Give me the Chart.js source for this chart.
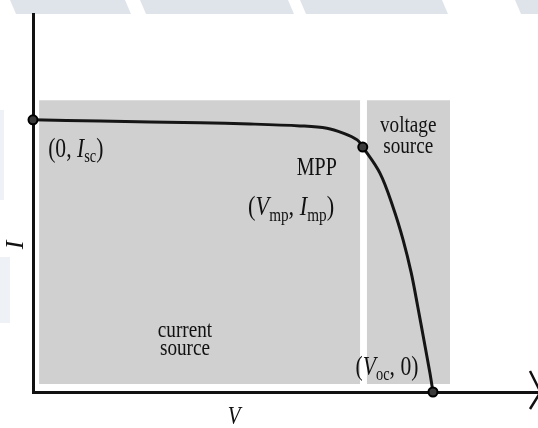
<!DOCTYPE html>
<html>
<head>
<meta charset="utf-8">
<script src="https://cdn.jsdelivr.net/npm/chart.js@4/dist/chart.umd.min.js"></script>
<style>
  html, body { margin: 0; padding: 0; background: #fff; }
  canvas { display: block; }
</style>
</head>
<body>
<canvas id="iv" width="538" height="428"></canvas>
<script>
// I-V curve of a solar cell (normalised units)
var voltage = [0, 0.133, 0.331, 0.430, 0.529, 0.582, 0.614, 0.642, 0.653, 0.687, 0.713, 0.733, 0.749, 0.762, 0.774, 0.786, 0.792];
var current = [0.720, 0.717, 0.712, 0.709, 0.704, 0.698, 0.685, 0.667, 0.648, 0.579, 0.489, 0.402, 0.315, 0.225, 0.138, 0.050, 0];

// marked points: short circuit, maximum power point, open circuit
var keyNames = ['Isc', 'MPP', 'Voc'];
var keyV = [0, 0.653, 0.792];
var keyI = [0.720, 0.648, 0];

// shaded operating regions (current source / voltage source)
var regionNames = ['current source', 'voltage source'];
var regionFrom = [0.012, 0.661];
var regionTo = [0.648, 0.826];
var regionTop = 0.772;
var regionBottom = 0.021;

var SERIF = "'Liberation Serif', 'DejaVu Serif', serif";

function toXY(xs, ys) {
  return xs.map(function(x, i){ return {x: x, y: ys[i]}; });
}

var regionSets = regionNames.map(function(name, i){
  return {
    label: name,
    data: [{x: regionFrom[i], y: regionTop}, {x: regionTo[i], y: regionTop}],
    showLine: true,
    borderWidth: 0,
    pointRadius: 0,
    backgroundColor: '#d0d0d0',
    fill: {value: regionBottom},
    order: 3
  };
});

// text runs: it = italic, sub = subscript
function drawRuns(ctx, runs, x, y, size, align) {
  var sx = 0.8;
  var widths = runs.map(function(r){
    ctx.font = (r.it ? 'italic ' : '') + Math.round(r.sub ? size * 0.68 : size) + 'px ' + SERIF;
    return ctx.measureText(r.t).width * sx;
  });
  var total = widths.reduce(function(a, b){ return a + b; }, 0);
  var cx = align === 'left' ? x : x - total / 2;
  ctx.textAlign = 'left';
  ctx.textBaseline = 'alphabetic';
  runs.forEach(function(r, i){
    ctx.font = (r.it ? 'italic ' : '') + Math.round(r.sub ? size * 0.68 : size) + 'px ' + SERIF;
    ctx.save();
    ctx.translate(cx, y + (r.sub ? size * 0.2 : 0));
    ctx.scale(sx, 1);
    ctx.fillText(r.t, 0, 0);
    ctx.restore();
    cx += widths[i];
  });
}

var labels = [
  {v: 0.030, i: 0.622, size: 27, align: 'left', runs: [{t: '(0, '}, {t: 'I', it: true}, {t: 'sc', sub: true}, {t: ')'}]},
  {v: 0.562, i: 0.574, size: 25, runs: [{t: 'MPP'}]},
  {v: 0.511, i: 0.468, size: 28, runs: [{t: '('}, {t: 'V', it: true}, {t: 'mp', sub: true}, {t: ', '}, {t: 'I', it: true}, {t: 'mp', sub: true}, {t: ')'}]},
  {v: 0.743, i: 0.688, size: 24, runs: [{t: 'voltage'}]},
  {v: 0.743, i: 0.632, size: 24, runs: [{t: 'source'}]},
  {v: 0.301, i: 0.146, size: 24, runs: [{t: 'current'}]},
  {v: 0.301, i: 0.098, size: 24, runs: [{t: 'source'}]},
  {v: 0.701, i: 0.045, size: 27, runs: [{t: '('}, {t: 'V', it: true}, {t: 'oc', sub: true}, {t: ', 0)'}]},
  {v: 0.398, i: -0.085, size: 26, runs: [{t: 'V', it: true}]}
];

var decorations = {
  id: 'decorations',
  beforeDraw: function(chart) {
    var ctx = chart.ctx;
    ctx.save();
    ctx.fillStyle = '#fff';
    ctx.fillRect(0, 0, chart.width, chart.height);
    // faint watermark band along the top edge
    ctx.fillStyle = '#dfe4ea';
    [[10, 125], [140, 288], [300, 442], [515, 538]].forEach(function(s){
      ctx.beginPath();
      ctx.moveTo(s[0], 0); ctx.lineTo(s[1], 0);
      ctx.lineTo(s[1] + 6, 14); ctx.lineTo(s[0] + 6, 14);
      ctx.closePath(); ctx.fill();
    });
    ctx.fillStyle = '#eef1f5';
    ctx.fillRect(0, 110, 4, 90);
    ctx.fillRect(0, 257, 10, 66);
    ctx.restore();
  },
  afterDraw: function(chart) {
    var ctx = chart.ctx;
    var xs = chart.scales.x, ys = chart.scales.y, area = chart.chartArea;
    ctx.save();
    ctx.fillStyle = '#111';
    labels.forEach(function(l){
      drawRuns(ctx, l.runs, xs.getPixelForValue(l.v), ys.getPixelForValue(l.i), l.size, l.align);
    });
    // rotated axis label I
    ctx.save();
    ctx.translate(xs.getPixelForValue(-0.034), ys.getPixelForValue(0.389));
    ctx.rotate(-Math.PI / 2);
    ctx.font = 'italic 26px ' + SERIF;
    ctx.textAlign = 'center';
    ctx.textBaseline = 'middle';
    ctx.fillText('I', 0, 0);
    ctx.restore();
    // arrow head on the V axis
    ctx.strokeStyle = '#111';
    ctx.lineWidth = 2.5;
    ctx.beginPath();
    ctx.moveTo(area.right - 8, area.bottom - 21);
    ctx.lineTo(area.right + 2, area.bottom - 1);
    ctx.moveTo(area.right - 8, area.bottom + 17);
    ctx.lineTo(area.right + 2, area.bottom + 1);
    ctx.stroke();
    ctx.restore();
  }
};

var axisStyle = {
  type: 'linear',
  min: 0,
  max: 1,
  grid: {display: false, drawTicks: false},
  ticks: {display: false},
  border: {display: true, color: '#111', width: 3}
};

new Chart(document.getElementById('iv'), {
  type: 'scatter',
  data: {
    datasets: regionSets.concat([
      {
        label: 'I-V curve',
        data: toXY(voltage, current),
        showLine: true,
        borderColor: '#151515',
        borderWidth: 3,
        pointRadius: 0,
        tension: 0.35,
        clip: false,
        order: 1
      },
      {
        label: 'key points',
        data: toXY(keyV, keyI),
        pointRadius: 4.5,
        pointBackgroundColor: '#3a3a3a',
        pointBorderColor: '#000',
        pointBorderWidth: 2,
        clip: false,
        order: 0
      }
    ])
  },
  options: {
    responsive: false,
    animation: false,
    layout: {autoPadding: false, padding: {left: 33, top: 14, right: 0, bottom: 36}},
    plugins: {legend: {display: false}, tooltip: {enabled: false}},
    scales: {
      x: Object.assign({}, axisStyle),
      y: Object.assign({}, axisStyle)
    }
  },
  plugins: [decorations]
});
</script>
</body>
</html>
